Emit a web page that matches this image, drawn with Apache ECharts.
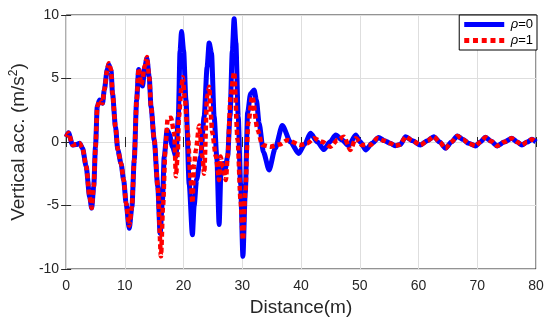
<!DOCTYPE html>
<html>
<head>
<meta charset="utf-8">
<script src="https://cdn.jsdelivr.net/npm/echarts@6/dist/echarts.min.js"></script>
<style>
html,body{margin:0;padding:0;background:#fff;}
#chart{width:550px;height:327px;}
</style>
</head>
<body>
<div id="chart"></div>
<script>
// Distance (m) and vertical acceleration (m/s^2)
const distRho0 = [0, 0.4, 1.1, 1.7, 2.3, 2.8, 3.4, 4.0, 4.35, 4.7, 5.0, 5.3, 5.7, 6.2, 6.5, 7.0, 7.25, 7.65, 7.9, 8.4, 8.8, 9.35, 9.8, 10.2, 10.75, 11.2, 11.6, 12.0, 12.35, 12.75, 13.0, 13.4, 13.75, 14.15, 14.45, 15.0, 15.6, 16.0, 16.4, 16.7, 17.2, 17.6, 18.1, 18.7, 19.1, 19.4, 19.65, 20.0, 20.4, 20.95, 21.5, 21.8, 22.2, 22.9, 23.5, 24.0, 24.35, 24.75, 25.2, 25.65, 26.05, 26.35, 26.75, 27.05, 27.5, 27.9, 28.3, 28.6, 28.9, 29.3, 29.7, 30.1, 30.5, 30.9, 31.4, 32.0, 32.4, 32.85, 33.6, 34.55, 35.6, 36.8, 38.2, 39.6, 40.6, 41.6, 42.8, 43.9, 44.9, 45.9, 47.0, 48.1, 49.3, 50.1, 51.0, 52.1, 53.2, 54.2, 55.2, 56.0, 56.9, 57.8, 59.0, 60.3, 61.5, 62.6, 63.6, 64.6, 65.6, 66.6, 67.6, 68.5, 69.7, 70.5, 71.4, 72.4, 73.4, 74.6, 75.9, 76.8, 77.6, 78.5, 79.3, 80];
const accRho0 = [0.4, 0.73, -0.24, -0.2, -0.1, -0.5, -1.9, -4.3, -5.2, -3.5, -0.37, 2.8, 3.3, 3.05, 4.1, 5.7, 6.1, 5.6, 3.8, 1.2, -0.63, -1.7, -3.0, -4.8, -6.8, -5.1, -1.4, 3.3, 5.7, 4.6, 4.4, 5.9, 6.6, 5.1, 2.8, 0.15, -3.5, -7.2, -4.6, -1.15, 0.95, 0.6, -0.37, -1.15, 2.0, 7.2, 8.7, 7.2, 3.3, -3.3, -7.3, -5.0, -3.0, -1.15, 2.0, 5.9, 7.8, 7.0, 2.0, -1.15, -6.5, -2.5, -1.7, -2.2, -1.15, 2.0, 7.2, 9.7, 7.8, 2.0, -3.3, -9.0, -4.0, 2.3, 3.8, 4.1, 3.3, 1.5, -0.8, -2.2, -0.5, 1.3, 0.0, -0.9, -0.2, 0.68, 0.0, -0.6, 0.0, 0.55, 0.15, -0.3, 0.55, 0.0, -0.63, -0.1, 0.35, 0.1, -0.1, -0.3, -0.2, 0.42, 0.1, -0.24, 0.1, 0.42, 0.0, -0.5, 0.0, 0.47, 0.2, -0.1, -0.31, 0.0, 0.37, 0.05, -0.31, 0.0, 0.29, 0.0, -0.24, 0.0, 0.21, 0.0];

const distRho1 = [0, 0.4, 1.1, 2.3, 2.8, 3.4, 4.0, 4.35, 4.7, 5.0, 5.3, 5.7, 6.2, 6.5, 7.0, 7.25, 7.65, 7.9, 8.4, 8.8, 9.35, 9.8, 10.2, 10.75, 11.2, 11.6, 12.0, 12.35, 12.8, 13.4, 13.75, 14.15, 14.45, 15.0, 15.6, 16.15, 16.5, 16.9, 17.3, 17.85, 18.4, 18.7, 19.0, 19.2, 19.65, 19.85, 20.2, 20.7, 21.2, 21.5, 21.8, 22.1, 22.65, 23.2, 23.5, 24.0, 24.35, 24.9, 25.5, 26.05, 26.3, 26.7, 27.2, 27.5, 28.0, 28.6, 29.2, 29.7, 30.1, 30.5, 31.0, 31.7, 32.6, 33.4, 34.8, 36.3, 37.7, 39.9, 41.1, 42.2, 43.6, 45.0, 46.2, 47.3, 48.4, 49.3, 50.4, 51.8, 53.0, 54.2, 55.2, 56.0, 56.9, 57.8, 59.0, 60.3, 61.5, 62.6, 63.6, 64.6, 65.6, 66.6, 67.6, 68.5, 69.7, 70.5, 71.4, 72.4, 73.4, 74.6, 75.9, 76.8, 77.6, 78.5, 79.3, 80];
const accRho1 = [0.4, 0.7, -0.24, -0.1, -0.5, -1.9, -4.3, -5.2, -3.5, -0.4, 2.8, 3.3, 3.05, 4.1, 5.7, 6.2, 5.7, 3.8, 1.2, -0.6, -1.7, -3.0, -4.8, -6.6, -5.1, -1.4, 3.3, 5.8, 4.5, 6.0, 6.7, 5.1, 2.8, 0.15, -3.5, -9.0, -5.0, -0.5, 1.87, 1.9, 0.7, -2.7, -0.9, 2.0, 4.35, 5.1, 3.5, 0.7, -3.0, -4.8, -1.8, -0.6, 1.3, -1.15, -2.5, 3.6, 4.35, 0.7, -1.15, -3.0, -1.15, -2.0, -3.0, -1.15, 3.6, 5.5, 0.15, -4.6, -7.7, -4.0, 1.5, 3.6, 0.95, -0.24, -0.37, -0.2, 0.15, -0.24, -0.1, 0.29, 0.02, -0.37, 0.15, 0.42, -0.63, 0.29, -0.24, -0.24, 0.29, 0.1, -0.1, -0.3, -0.2, 0.42, 0.1, -0.24, 0.1, 0.42, 0.0, -0.5, 0.0, 0.47, 0.2, -0.1, -0.31, 0.0, 0.37, 0.05, -0.31, 0.0, 0.29, 0.0, -0.24, 0.0, 0.21, 0.0];

const seriesNames = ['ρ=0', 'ρ=1'];
const xTicks = [0, 10, 20, 30, 40, 50, 60, 70, 80];
const yTicks = [-10, -5, 0, 5, 10];

const pairs = (xs, ys) => xs.map((x, i) => [x, ys[i]]);
const FONT = 'Arial, "Liberation Sans", Helvetica, sans-serif';
const AX = '#262626';
const DOTS_ICON = 'path://M0,0h5v5h-5z M8.75,0h5v5h-5z M17.5,0h5v5h-5z M26.25,0h5v5h-5z M35,0h5v5h-5z';
const SOLID_ICON = 'path://M0,0h40v5h-40z';

const chart = echarts.init(document.getElementById('chart'), null, {renderer: 'canvas'});
const option = {
  animation: false,
  backgroundColor: '#ffffff',
  grid: {left: 65, right: 14, top: 15, bottom: 58, show: true, borderColor: AX, borderWidth: 1, backgroundColor: 'transparent'},
  legend: {
    right: 13, top: 15, orient: 'vertical',
    backgroundColor: '#fff', borderColor: '#000', borderWidth: 1, borderRadius: 0,
    padding: [3, 4, 3, 5], itemGap: 3, itemWidth: 43, itemHeight: 5,
    data: [{name: seriesNames[0], icon: SOLID_ICON}, {name: seriesNames[1], icon: DOTS_ICON}],
    formatter: n => '{i|ρ}' + n.slice(1),
    textStyle: {fontFamily: FONT, fontSize: 13, color: '#000',
      rich: {i: {fontStyle: 'italic', fontFamily: FONT, fontSize: 13, color: '#000'}}}
  },
  xAxis: [{
    type: 'value', min: xTicks[0], max: xTicks[xTicks.length - 1], interval: 10,
    name: 'Distance(m)', nameLocation: 'middle', nameGap: 27,
    nameTextStyle: {fontFamily: FONT, fontSize: 19, color: AX},
    axisLine: {show: false},
    axisTick: {show: true, inside: true, length: 5, lineStyle: {color: AX}},
    axisLabel: {fontFamily: FONT, fontSize: 14, color: AX, margin: 10},
    splitLine: {show: true, lineStyle: {color: '#dedede', width: 1}}
  }, {
    type: 'value', position: 'top', min: 0, max: 80, interval: 10,
    axisLine: {show: false}, axisLabel: {show: false}, splitLine: {show: false},
    axisTick: {show: true, inside: true, length: 5, lineStyle: {color: AX}}
  }],
  yAxis: [{
    type: 'value', min: yTicks[0], max: yTicks[yTicks.length - 1], interval: 5,
    name: 'Vertical acc. (m/s{sup|2})', nameLocation: 'middle', nameGap: 33,
    nameTextStyle: {fontFamily: FONT, fontSize: 19, color: AX,
      rich: {sup: {fontFamily: FONT, fontSize: 12, color: AX, verticalAlign: 'top', padding: [0, 0, 9, 0]}}},
    axisLine: {show: false},
    axisTick: {show: true, inside: true, length: 5, lineStyle: {color: AX}},
    axisLabel: {fontFamily: FONT, fontSize: 14, color: AX, margin: 7},
    splitLine: {show: true, lineStyle: {color: '#dedede', width: 1}}
  }, {
    type: 'value', position: 'right', min: -10, max: 10, interval: 5,
    axisLine: {show: false}, axisLabel: {show: false}, splitLine: {show: false},
    axisTick: {show: true, inside: true, length: 5, lineStyle: {color: AX}}
  }],
  series: [{
    name: seriesNames[0], type: 'line', data: pairs(distRho0, accRho0),
    showSymbol: false, symbol: 'none', smooth: 0.25, smoothMonotone: 'x',
    lineStyle: {color: '#0000ff', width: 5}, itemStyle: {color: '#0000ff'}, z: 2
  }, {
    name: seriesNames[1], type: 'line', data: pairs(distRho1, accRho1),
    showSymbol: false, symbol: 'none', smooth: 0.25, smoothMonotone: 'x',
    lineStyle: {color: '#ff0000', width: 4.5, type: [5, 3], cap: 'butt'}, itemStyle: {color: '#ff0000'}, z: 3
  }]
};
chart.setOption(option);
</script>
</body>
</html>
